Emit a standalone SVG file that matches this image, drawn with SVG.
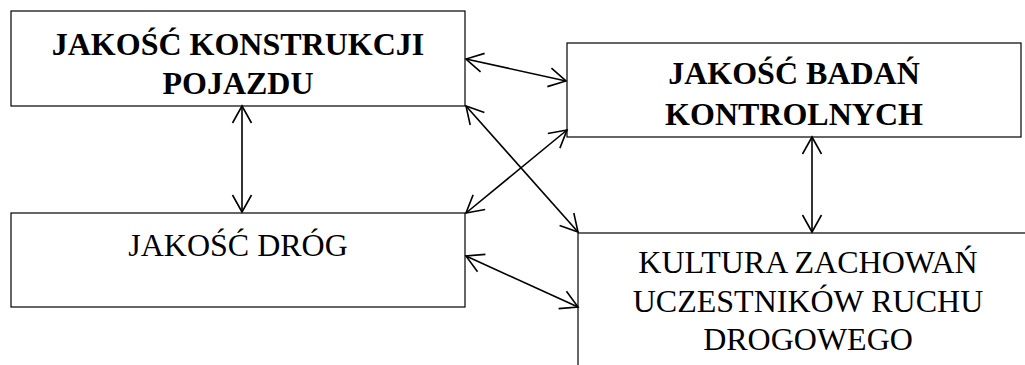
<svg xmlns="http://www.w3.org/2000/svg" width="1025" height="365" viewBox="0 0 1025 365">
  <style>
    .box { fill: #ffffff; stroke: #000000; stroke-width: 1.2; }
    .lbl { font-family: "Liberation Serif", "Times New Roman", serif; font-size: 32px; fill: #000000; text-anchor: middle; }
    .bold { font-weight: bold; }
    .link { fill: none; stroke: #000000; stroke-width: 1.6; marker-start: url(#head); marker-end: url(#head); }
  </style>
  <defs>
    <marker id="head" markerUnits="userSpaceOnUse" viewBox="-20 -12 22 24" refX="0" refY="0" markerWidth="22" markerHeight="24" orient="auto-start-reverse">
      <path d="M -17 -9.5 L 0 0 L -17 9.5" fill="none" stroke="#000000" stroke-width="1.6"/>
    </marker>
  </defs>

  <rect width="1025" height="365" fill="#ffffff"/>

  <g id="node-konstrukcja">
    <rect class="box" x="11" y="11" width="454" height="95"/>
    <text class="lbl bold" x="238" y="55">JAKOŚĆ KONSTRUKCJI</text>
    <text class="lbl bold" x="238" y="94">POJAZDU</text>
  </g>

  <g id="node-badania">
    <rect class="box" x="567" y="43" width="454" height="94"/>
    <text class="lbl bold" x="794" y="84">JAKOŚĆ BADAŃ</text>
    <text class="lbl bold" x="794" y="125">KONTROLNYCH</text>
  </g>

  <g id="node-drogi">
    <rect class="box" x="11" y="213" width="454" height="94"/>
    <text class="lbl" x="238" y="256">JAKOŚĆ DRÓG</text>
  </g>

  <g id="node-kultura">
    <rect class="box" x="578" y="233" width="462" height="200"/>
    <text class="lbl" x="808" y="273">KULTURA ZACHOWAŃ</text>
    <text class="lbl" x="808" y="312">UCZESTNIKÓW RUCHU</text>
    <text class="lbl" x="808" y="350">DROGOWEGO</text>
  </g>

  <g id="connectors">
    <line class="link" x1="466" y1="59" x2="566" y2="81"/>
    <line class="link" x1="242" y1="106" x2="242" y2="212"/>
    <line class="link" x1="466" y1="106" x2="578" y2="232"/>
    <line class="link" x1="567" y1="130" x2="466" y2="213"/>
    <line class="link" x1="812" y1="137" x2="812" y2="232"/>
    <line class="link" x1="466" y1="256" x2="578" y2="307"/>
  </g>
</svg>
